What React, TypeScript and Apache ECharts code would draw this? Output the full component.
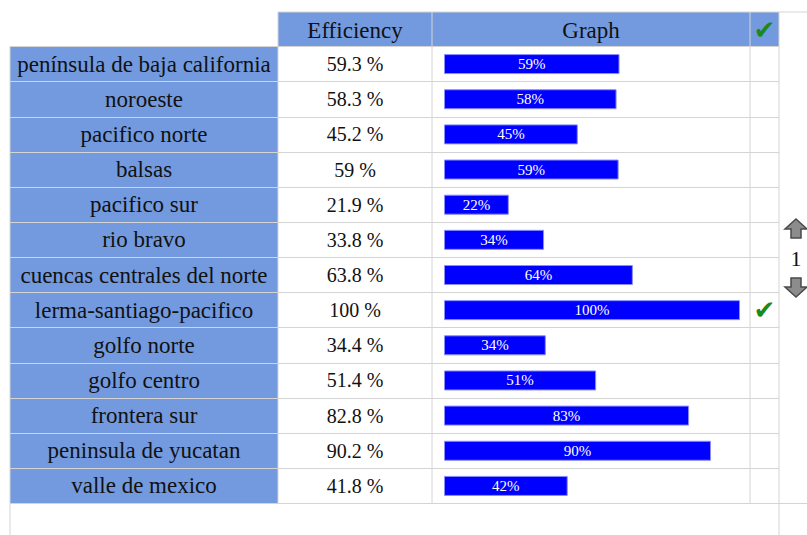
import React, { useEffect, useRef } from "react";
import * as echarts from "echarts";

const regions = [
  "península de baja california",
  "noroeste",
  "pacifico norte",
  "balsas",
  "pacifico sur",
  "rio bravo",
  "cuencas centrales del norte",
  "lerma-santiago-pacifico",
  "golfo norte",
  "golfo centro",
  "frontera sur",
  "peninsula de yucatan",
  "valle de mexico",
];
const efficiency = [59.3, 58.3, 45.2, 59, 21.9, 33.8, 63.8, 100, 34.4, 51.4, 82.8, 90.2, 41.8];
const headers = ["Efficiency", "Graph"];
const pageNumber = "1";

const effLabels = efficiency.map((v) => `${v} %`);
const maxVal = Math.max(...efficiency);
const checks = efficiency.map((v) => (v === maxVal ? "✔" : ""));

const SERIF = "Liberation Serif";
const BLUE = "#739ADF";
const LINE = "#d4d4d4";
const GREEN = "#1a8a1a";

// layout
const TL = 10, TR = 779, TOP = 12, HB = 46.5, BOT = 503.5;
const C1 = 278, C2 = 432, C3 = 750;
const BAR0 = 444, BAR100 = 740;
const pxPerUnit = (BAR100 - BAR0) / 100;
const xMin = -(BAR0 - TL) / pxPerUnit;
const xMax = 100 + (TR - BAR100) / pxPerUnit;

export default function App() {
  const ref = useRef<HTMLDivElement>(null);
  useEffect(() => {
    const chart = echarts.init(ref.current!, null, { renderer: "svg" });
    const cx = 796;
    const up = [[cx, 219], [cx + 11, 229], [cx + 5, 229], [cx + 5, 238], [cx - 5, 238], [cx - 5, 229], [cx - 11, 229]];
    const down = [[cx, 297], [cx + 11, 287], [cx + 5, 287], [cx + 5, 278], [cx - 5, 278], [cx - 5, 287], [cx - 11, 287]];
    const vline = (x: number, y1: number, y2: number) => ({
      type: "line", z: 5, shape: { x1: x, y1, x2: x, y2 }, style: { stroke: LINE, lineWidth: 1 },
    });
    const hline = (y: number, x1: number, x2: number) => ({
      type: "line", z: 5, shape: { x1, y1: y, x2, y2: y }, style: { stroke: LINE, lineWidth: 1 },
    });
    chart.setOption({
      animation: false,
      backgroundColor: "#ffffff",
      textStyle: { fontFamily: SERIF },
      grid: { left: TL, top: HB, width: TR - TL, height: BOT - HB, containLabel: false },
      xAxis: { type: "value", min: xMin, max: xMax, show: false, splitLine: { show: false } },
      yAxis: [
        {
          type: "category", inverse: true, data: regions, position: "left",
          axisLine: { show: false }, axisTick: { show: false },
          splitLine: { show: true, lineStyle: { color: LINE, width: 1 } },
          axisLabel: { inside: true, margin: (C1 - TL) / 2, align: "center", fontFamily: SERIF, fontSize: 23, color: "#111", interval: 0, padding: [2, 0, 0, 0] },
          z: 3,
        },
        {
          type: "category", inverse: true, data: effLabels, position: "left",
          axisLine: { show: false }, axisTick: { show: false }, splitLine: { show: false },
          axisLabel: { inside: true, margin: (C1 + C2) / 2 - TL, align: "center", fontFamily: SERIF, fontSize: 20, color: "#111", interval: 0, padding: [2, 0, 0, 0] },
          z: 3,
        },
        {
          type: "category", inverse: true, data: checks, position: "right",
          axisLine: { show: false }, axisTick: { show: false }, splitLine: { show: false },
          axisLabel: { inside: true, margin: TR - (C3 + TR) / 2, align: "center", fontFamily: "DejaVu Sans", fontSize: 26, color: GREEN, interval: 0 },
          z: 3,
        },
      ],
      series: [
        {
          type: "bar", yAxisIndex: 0, data: efficiency, barWidth: 20,
          itemStyle: { color: "#0000ff", borderColor: "#8c8cff", borderWidth: 1 },
          label: {
            show: true, position: "inside", color: "#ffffff", fontFamily: SERIF, fontSize: 15,
            formatter: (p: any) => `${Math.round(p.value)}%`,
          },
          z: 4,
        },
      ],
      graphic: [
        { type: "rect", z: -10, shape: { x: TL, y: HB, width: C1 - TL, height: BOT - HB }, style: { fill: BLUE } },
        { type: "rect", z: -10, shape: { x: C1, y: TOP, width: TR - C1, height: HB - TOP }, style: { fill: BLUE } },
        vline(C1, TOP, BOT),
        vline(C2, TOP, BOT),
        vline(C3, TOP, BOT),
        vline(TL, HB, 535),
        vline(TR, TOP, 535),
        hline(TOP, C1, 807),
        hline(BOT, TR, 807),
        {
          type: "text", z: 6, x: (C1 + C2) / 2, y: (TOP + HB) / 2 + 1,
          style: { text: headers[0], fontFamily: SERIF, fontSize: 23, fill: "#111", align: "center", verticalAlign: "middle" },
        },
        {
          type: "text", z: 6, x: (C2 + C3) / 2, y: (TOP + HB) / 2 + 1,
          style: { text: headers[1], fontFamily: SERIF, fontSize: 23, fill: "#111", align: "center", verticalAlign: "middle" },
        },
        {
          type: "text", z: 6, x: (C3 + TR) / 2, y: (TOP + HB) / 2 + 1,
          style: { text: "✔", fontFamily: "DejaVu Sans", fontSize: 26, fill: GREEN, align: "center", verticalAlign: "middle" },
        },
        { type: "polygon", z: 6, shape: { points: up }, style: { fill: "#8c8c8c", stroke: "#4a4a4a", lineWidth: 1.5 } },
        { type: "polygon", z: 6, shape: { points: down }, style: { fill: "#8c8c8c", stroke: "#4a4a4a", lineWidth: 1.5 } },
        {
          type: "text", z: 6, x: cx, y: 258,
          style: { text: pageNumber, fontFamily: SERIF, fontSize: 22, fill: "#111", align: "center", verticalAlign: "middle" },
        },
      ],
    });
    return () => chart.dispose();
  }, []);
  return <div ref={ref} style={{ position: "fixed", left: 0, top: 0, width: 807, height: 535 }} />;
}
